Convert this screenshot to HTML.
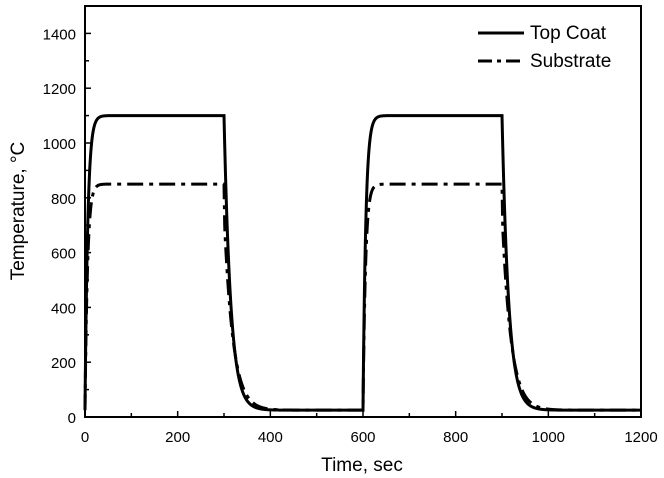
<!DOCTYPE html>
<html><head><meta charset="utf-8"><style>
html,body{margin:0;padding:0;background:#fff;}
svg{display:block;font-family:"Liberation Sans",Arial,sans-serif;}
</style></head><body>
<svg id="s" width="664" height="478" viewBox="0 0 664 478" xmlns="http://www.w3.org/2000/svg">
<rect x="0" y="0" width="664" height="478" fill="#fff"/>
<g id="ticks" stroke="#000" stroke-width="1.5"></g>
<g id="labels" font-size="15" fill="#000"></g>
<path id="ctop" fill="none" stroke="#000" stroke-width="3"/>
<path id="csub" fill="none" stroke="#000" stroke-width="3" stroke-dasharray="16,6,4,6"/>
<rect x="85" y="6" width="556" height="411" fill="none" stroke="#000" stroke-width="2"/>
<line x1="478" y1="33" x2="524" y2="33" stroke="#000" stroke-width="3"/>
<line x1="478" y1="61" x2="524" y2="61" stroke="#000" stroke-width="3" stroke-dasharray="14,5,4,5"/>
<text x="530" y="39" font-size="19">Top Coat</text>
<text x="530" y="67" font-size="19">Substrate</text>
<text x="362" y="471" font-size="19" text-anchor="middle">Time, sec</text>
<text transform="translate(24,211) rotate(-90)" font-size="19" text-anchor="middle">Temperature, °C</text>
</svg>
<script>
(function(){
var X=function(t){return 85+t*556/1200;},Y=function(v){return 417-v*411/1500;};
var tk=document.getElementById('ticks'),lb=document.getElementById('labels'),ns="http://www.w3.org/2000/svg";
function L(x1,y1,x2,y2){var l=document.createElementNS(ns,'line');l.setAttribute('x1',x1);l.setAttribute('y1',y1);l.setAttribute('x2',x2);l.setAttribute('y2',y2);tk.appendChild(l);}
function T(x,y,s,a){var t=document.createElementNS(ns,'text');t.setAttribute('x',x);t.setAttribute('y',y);t.setAttribute('text-anchor',a);t.textContent=s;lb.appendChild(t);}
for(var t=0;t<=1200;t+=100){var x=X(t),m=t%200==0;L(x,417,x,417-(m?6:4));if(m)T(x,442,String(t),'middle');}
for(var v=0;v<=1500;v+=100){var y=Y(v),m=v%200==0;L(85,y,85+(m?6:4),y);if(m)T(76,y+6,String(v),'end');}
function fTop(t){var c=t%600;if(c<300)return 1100-1075*Math.exp(-c/6);var d=c-300;return 25+1075*Math.exp(-d/14.5);}
function fSub(t){var c=t%600;if(c<300){return 850-825*Math.exp(-c/5.5);}var d=c-300;return d<2?850-d*100:25+650*Math.exp(-(d-2)/19);}
function P(f){var s='';for(var t=0;t<=1200;t+=0.5){s+=(t?'L':'M')+X(t).toFixed(2)+','+Y(f(t)).toFixed(2);}return s;}
document.getElementById('ctop').setAttribute('d',P(fTop));
document.getElementById('csub').setAttribute('d',P(fSub));
})();
</script>
</body></html>
